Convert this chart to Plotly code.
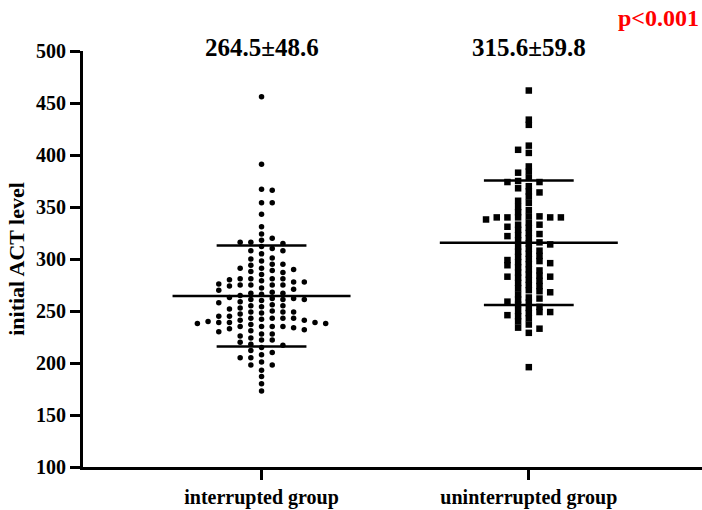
import plotly.graph_objects as go

categories = ["interrupted group", "uninterrupted group"]
means = [264.5, 315.6]
sds = [48.6, 59.8]
p_text = "p<0.001"

interrupted = [
    456, 391, 367, 366, 354, 354, 343, 331, 324, 320, 318, 316, 316, 315,
    312, 310, 308, 308, 305, 301, 300,
    298, 295, 295, 294, 291, 291, 290, 289, 288, 287, 285,
    281, 281, 281, 281, 280, 279, 278, 278, 276, 275, 275, 275, 275, 274, 272, 271, 270,
    268, 267, 267, 266, 265, 263, 262, 262, 261, 261, 261, 260, 259, 258, 256, 255, 255,
    254, 253, 252, 250, 249, 249, 249, 248, 247,
    245, 245, 243, 243, 243, 243, 242, 241, 241, 240, 239, 239, 239, 238, 238, 237,
    235, 235, 235, 235, 234, 233, 232, 231, 230, 228, 228, 226, 224, 222, 222, 220,
    218, 217, 215, 212, 210, 208, 205, 205, 201, 198, 198, 193, 187, 180, 173,
]

uninterrupted = [
    462, 434, 429, 409, 405, 402, 389, 384, 383, 378, 375, 374, 374, 370, 368, 365,
    364, 360, 356, 354, 350, 347, 345,
    341, 341, 340, 340, 340, 340, 340, 338, 335, 333, 333, 331, 330, 328,
    325, 324, 323, 322, 320, 318, 316, 315, 314, 312, 310, 308, 307,
    305, 303, 302, 300, 299, 298, 297, 296, 295, 294, 292, 290,
    289, 287, 285, 284, 283, 283, 282, 280, 279, 277, 275, 274, 272,
    270, 269, 268, 266, 263, 262, 261,
    259, 258, 256, 254, 253, 250, 249, 249, 248, 246, 245, 243, 240, 237, 234,
    233, 229, 196,
]


def swarm_offsets(vals, gap, step):
    """Greedy column beeswarm: put each value in the innermost free column."""
    cols = {}
    out = []
    for i, v in enumerate(vals):
        sign = -1 if i % 2 == 0 else 1
        order = [0]
        for n in range(1, 40):
            order += [sign * n, -sign * n]
        for k in order:
            if all(abs(v - u) >= gap for u in cols.get(k, [])):
                cols.setdefault(k, []).append(v)
                out.append(k * step)
                break
    return out


STEP = 0.04
fig = go.Figure()

groups = [interrupted, uninterrupted]
symbols = ["circle", "square"]
sizes = [5.5, 6.5]
gaps = [5.3, 5.0]
for gi, vals in enumerate(groups):
    offs = swarm_offsets(vals, gaps[gi], STEP)
    fig.add_trace(go.Scatter(
        x=[gi + o for o in offs], y=vals, mode="markers",
        marker=dict(symbol=symbols[gi], size=sizes[gi], color="black",
                    line=dict(width=0)),
        showlegend=False, hoverinfo="y"))

# mean and SD lines
for gi in range(2):
    m, s = means[gi], sds[gi]
    for yv, hw in [(m, 0.333), (m + s, 0.168), (m - s, 0.168)]:
        fig.add_trace(go.Scatter(
            x=[gi - hw, gi + hw], y=[yv, yv], mode="lines",
            line=dict(color="black", width=2.5), showlegend=False, hoverinfo="skip"))
    fig.add_annotation(x=gi, y=1.0, xref="x", yref="paper", yanchor="bottom",
                       yshift=-12,
                       text=f"{m}±{s}", showarrow=False,
                       font=dict(family="Liberation Serif", size=25, color="black",
                                 weight="bold"))

fig.add_annotation(x=1.0, y=1 + (51 - 18) / (467 - 51),
                   xref="paper", yref="paper", text=p_text,
                   showarrow=False, xanchor="right", yanchor="middle", xshift=-1,
                   font=dict(family="Liberation Serif", size=24, color="red", weight="bold"))

fig.update_layout(
    width=702, height=510,
    margin=dict(l=83, r=0, t=51, b=43),
    plot_bgcolor="white", paper_bgcolor="white",
    font=dict(family="Liberation Serif", color="black"),
    xaxis=dict(range=[-0.668, 1.648], tickvals=[0, 1], ticktext=categories,
               showgrid=False, zeroline=False, showline=True, linecolor="black",
               linewidth=3, ticks="outside", ticklen=10, tickwidth=3, tickcolor="black",
               tickfont=dict(family="Liberation Serif", size=20, weight="bold")),
    yaxis=dict(range=[100, 500], dtick=50, tick0=100,
               showgrid=False, zeroline=False, showline=True, linecolor="black",
               linewidth=3, ticks="outside", ticklen=10, tickwidth=3, tickcolor="black",
               tickfont=dict(family="Liberation Serif", size=20, weight="bold"),
               title=dict(text="initial ACT level", standoff=6,
                          font=dict(family="Liberation Serif", size=22, weight="bold"))),
)

fig.write_html("out.html")
